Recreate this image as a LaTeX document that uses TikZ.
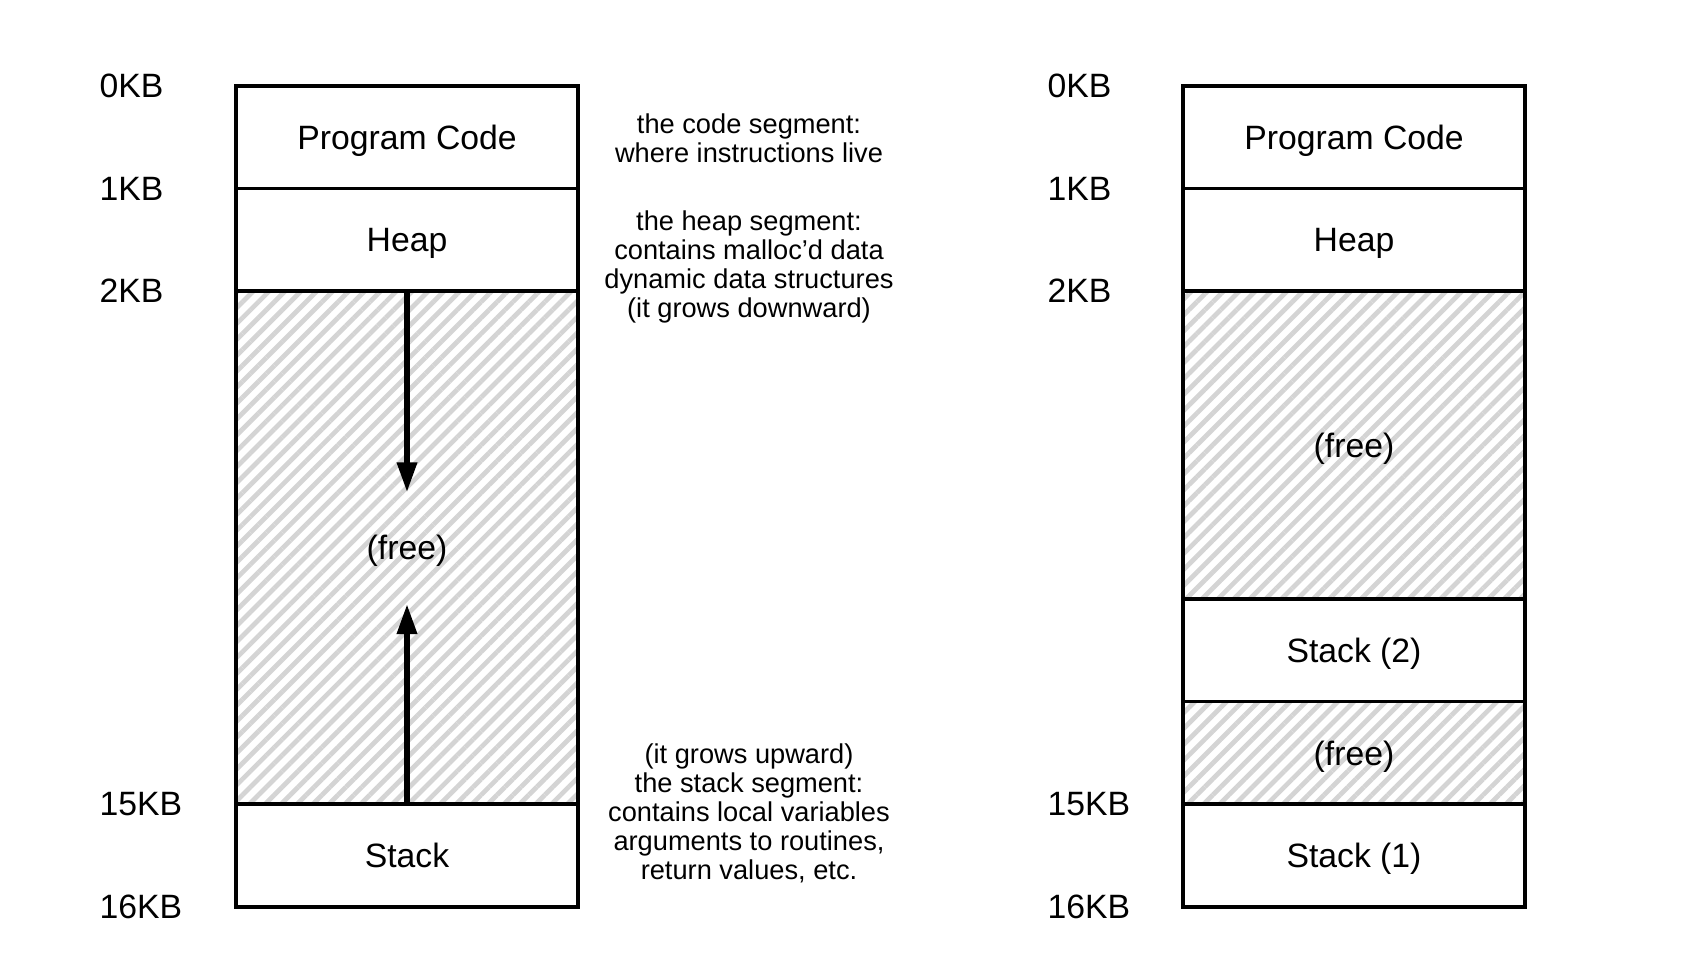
\documentclass[tikz,border=0pt]{standalone}
\usepackage{fontspec}
\setmainfont{Liberation Sans}
\usetikzlibrary{arrows.meta, positioning, patterns.meta}

\begin{document}
\begin{tikzpicture}[
  node distance=0pt,
  seg/.style={draw, line width=1pt, outer sep=0pt, inner sep=0pt,
              minimum width=34.2mm, minimum height=#1, text depth=0pt,
              font=\fontsize{9.6}{11}\selectfont},
  seg/.default=10.26mm,
  freeseg/.style={seg=#1, pattern={Lines[angle=45, distance=3.2pt, line width=1.35pt]},
                  pattern color=black!17},
  freeseg/.default=10.26mm,
  kb/.style={anchor=west, inner sep=0pt, font=\fontsize{9.6}{11}\selectfont},
  note/.style={align=center, inner sep=0pt, font=\fontsize{7.75}{8.25}\selectfont},
  arr/.style={-{Triangle[length=8.5pt, width=5.5pt]}, line width=1.6pt}]
\useasboundingbox (0,0) rectangle (17.06,9.58);
\node[seg, anchor=north] (code) at (4.07,8.72) {Program Code};
\node[seg, below=of code] (heap) {Heap};
\node[freeseg=51.3mm, below=of heap] (gap) {(free)};
\node[seg, below=of gap] (stack) {Stack};
\node[seg, anchor=north] (code2) at (13.54,8.72) {Program Code};
\node[seg, below=of code2] (heap2) {Heap};
\node[freeseg=30.78mm, below=of heap2] (gap2) {(free)};
\node[seg, below=of gap2] (stacktwo) {Stack (2)};
\node[freeseg, below=of stacktwo] (gap3) {(free)};
\node[seg, below=of gap3] (stackone) {Stack (1)};
\node[kb] (kb0) at (code.north -| 0.99,0) {0KB};
\node[kb] (kb1) at (code.south -| 0.99,0) {1KB};
\node[kb] (kb2) at (heap.south -| 0.99,0) {2KB};
\node[kb] (kb15) at (stack.north -| 0.99,0) {15KB};
\node[kb] (kb16) at (stack.south -| 0.99,0) {16KB};
\node[kb] (kb0r) at (code2.north -| 10.47,0) {0KB};
\node[kb] (kb1r) at (code2.south -| 10.47,0) {1KB};
\node[kb] (kb2r) at (heap2.south -| 10.47,0) {2KB};
\node[kb] (kb15r) at (stackone.north -| 10.47,0) {15KB};
\node[kb] (kb16r) at (stackone.south -| 10.47,0) {16KB};
\node[note] (codenote) at (7.49,8.20) {the code segment:\\ where instructions live};
\node[note] (heapnote) at (7.49,6.91) {the heap segment:\\ contains malloc'd data\\
  dynamic data structures\\ (it grows downward)};
\node[note] (stacknote) at (7.49,1.45) {(it grows upward)\\ the stack segment:\\
  contains local variables\\ arguments to routines,\\ return values, etc.};
\coordinate[below=20.1mm of gap.north] (downtip);
\coordinate[above=20.0mm of gap.south] (uptip);
\draw[arr] (gap.north) -- (downtip);
\draw[arr] (gap.south) -- (uptip);
\end{tikzpicture}
\end{document}
